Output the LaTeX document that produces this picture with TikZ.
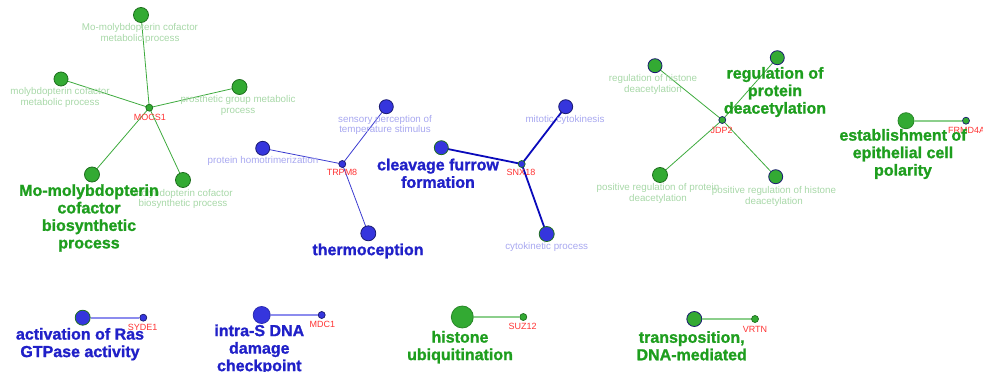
\documentclass[tikz,border=0pt]{standalone}
\usepackage{fontspec}
\setmainfont{Liberation Sans}
\newfontfamily\heavyfont{Liberation Sans Bold}[FakeBold=1.2]
\usetikzlibrary{backgrounds}
\definecolor{gfill}{HTML}{33AA33}
\definecolor{gline}{HTML}{1E6E1E}
\definecolor{bfill}{HTML}{3535DD}
\definecolor{bline}{HTML}{1A1A70}
\definecolor{gedge}{HTML}{3DAA3D}
\definecolor{bedge}{HTML}{3A3AD0}
\definecolor{dbedge}{HTML}{0A0ABB}
\definecolor{lgedge}{HTML}{8CCF8C}
\definecolor{lbedge}{HTML}{8C8CEE}
\definecolor{glabel}{HTML}{A8D8A8}
\definecolor{blabel}{HTML}{A8A8F0}
\definecolor{genec}{HTML}{FF3333}
\definecolor{gbig}{HTML}{1E9E1E}
\definecolor{bbig}{HTML}{2020C8}
\tikzset{
  x=1pt, y=-1pt,
  term/.style={circle, inner sep=0pt, minimum size=#1, line width=0.8pt},
  gterm/.style={term=#1, fill=gfill, draw=gline},
  bterm/.style={term=#1, fill=bfill, draw=bline},
  gbterm/.style={term=#1, fill=gfill, draw=bline},
  bgterm/.style={term=#1, fill=bfill, draw=gline},
  hub/.style={circle, inner sep=0pt, minimum size=7pt, line width=0.7pt},
  termtext/.style={font=\fontsize{9.8}{10.6}\selectfont, align=center, inner sep=0pt},
  gtext/.style={termtext, text=glabel},
  btext/.style={termtext, text=blabel},
  genetext/.style={font=\fontsize{9}{10}\selectfont, text=genec, inner sep=0pt},
  bigtext/.style={font=\fontsize{16}{17.5}\selectfont\heavyfont, align=center, inner sep=0pt},
  gbig/.style={bigtext, text=gbig},
  bbig/.style={bigtext, text=bbig},
  gedge/.style={draw=gedge, line width=0.8pt},
  bedge/.style={draw=bedge, line width=0.8pt},
  dbedge/.style={draw=dbedge, line width=1.8pt},
  lgedge/.style={draw=lgedge, line width=1.6pt},
  lbedge/.style={draw=lbedge, line width=1.6pt},
}
\begin{document}
\begin{tikzpicture}
\useasboundingbox (0,0) rectangle (983,372);

% ---- MOCS1 cluster ----
\node[gtext] (t1a) at (140,33.5) {Mo-molybdopterin cofactor\\metabolic process};
\node[gtext] (t1b) at (60,97.5) {molybdopterin cofactor\\metabolic process};
\node[gtext] (t1c) at (238,105.5) {prosthetic group metabolic\\process};
\node[gtext] (t1d) at (183,199) {molybdopterin cofactor\\biosynthetic process};
\node[genetext] (g1) at (150,117) {MOCS1};
\node[gterm=15pt] (n1a) at (141,15) {};
\node[gterm=14pt] (n1b) at (61,79) {};
\node[gterm=15pt] (n1c) at (239.5,87) {};
\node[gterm=15pt] (n1d) at (92,174.5) {};
\node[gterm=15pt] (n1e) at (183,180) {};
\node[hub, fill=gfill, draw=gline] (h1) at (149.3,107.7) {};
\begin{scope}[on background layer]
\foreach \t in {n1a,n1b,n1c,n1d,n1e} \draw[gedge] (h1.center) -- (\t.center);
\end{scope}
\node[gbig] (big1) at (89,218) {Mo-molybdopterin\\cofactor\\biosynthetic\\process};

% ---- TRPM8 cluster ----
\node[btext] (t2a) at (385,125) {sensory perception of\\temperature stimulus};
\node[btext] (t2b) at (263,161) {protein homotrimerization};
\node[genetext] (g2) at (342,172.7) {TRPM8};
\node[bterm=14pt] (n2a) at (386.3,106.7) {};
\node[bterm=14pt] (n2b) at (262.7,148.3) {};
\node[bterm=15pt] (n2c) at (368.3,233.3) {};
\node[hub, fill=bfill, draw=bline] (h2) at (342.3,164) {};
\begin{scope}[on background layer]
\foreach \t in {n2a,n2b,n2c} \draw[bedge] (h2.center) -- (\t.center);
\end{scope}
\node[bbig] (big2) at (368,251) {thermoception};

% ---- SNX18 cluster ----
\node[btext] (t3a) at (565,120) {mitotic cytokinesis};
\node[btext] (t3b) at (546.7,246.7) {cytokinetic process};
\node[genetext] (g3) at (521,172.7) {SNX18};
\node[bterm=14pt] (n3a) at (565.7,106.7) {};
\node[bgterm=14pt] (n3b) at (441.3,147.7) {};
\node[bgterm=15pt] (n3c) at (546.7,234) {};
\node[hub, fill=bfill, draw=gline] (h3) at (521.7,164) {};
\begin{scope}[on background layer]
\foreach \t in {n3a,n3b,n3c} \draw[dbedge] (h3.center) -- (\t.center);
\end{scope}
\node[bbig] (big3) at (438,173.3) {cleavage furrow\\formation};

% ---- JDP2 cluster ----
\node[gtext] (t4a) at (653,84.3) {regulation of histone\\deacetylation};
\node[gtext] (t4b) at (658,193.2) {positive regulation of protein\\deacetylation};
\node[gtext] (t4c) at (774,196.2) {positive regulation of histone\\deacetylation};
\node[genetext] (g4) at (721.7,130) {JDP2};
\node[gbterm=14pt] (n4a) at (655,65.7) {};
\node[gbterm=14pt] (n4b) at (777.3,57.7) {};
\node[gterm=15pt] (n4c) at (660,175) {};
\node[gbterm=14pt] (n4d) at (775.7,176.7) {};
\node[hub, fill=gfill, draw=bline] (h4) at (722.3,120) {};
\begin{scope}[on background layer]
\foreach \t in {n4a,n4b,n4c,n4d} \draw[gedge] (h4.center) -- (\t.center);
\end{scope}
\node[gbig] (big4) at (775,92) {regulation of\\protein\\deacetylation};

% ---- FRMD4A ----
\node[genetext] (g5) at (966.7,130) {FRMD4A};
\node[gterm=16pt, draw=gfill!80!black] (n5) at (906,120.7) {};
\node[hub, fill=gfill, draw=bline] (h5) at (966,120.7) {};
\draw[lgedge] (n5) -- (h5);
\node[gbig] (big5) at (903,154) {establishment of\\epithelial cell\\polarity};

% ---- SYDE1 ----
\node[genetext] (g6) at (142.7,327.3) {SYDE1};
\node[bgterm=15pt] (n6) at (82.7,317.7) {};
\node[hub, fill=bfill, draw=bline] (h6) at (143.3,317.7) {};
\draw[lbedge] (n6) -- (h6);
\node[bbig] (big6) at (80,344.2) {activation of Ras\\GTPase activity};

% ---- MDC1 ----
\node[genetext] (g7) at (322.3,324) {MDC1};
\node[bterm=17pt, draw=bfill!80!black] (n7) at (261.7,315) {};
\node[hub, fill=bfill, draw=bline] (h7) at (321.7,315) {};
\draw[lbedge] (n7) -- (h7);
\node[bbig] (big7) at (259.3,349.5) {intra-S DNA\\damage\\checkpoint};

% ---- SUZ12 ----
\node[genetext] (g8) at (522.7,326.7) {SUZ12};
\node[gterm=22pt, draw=gfill!80!black] (n8) at (462.3,317) {};
\node[hub, fill=gfill, draw=gline] (h8) at (523.3,317) {};
\draw[lgedge] (n8) -- (h8);
\node[gbig] (big8) at (460,347.2) {histone\\ubiquitination};

% ---- VRTN ----
\node[genetext] (g9) at (755,329.3) {VRTN};
\node[gbterm=15pt] (n9) at (694.3,319) {};
\node[hub, fill=gfill, draw=gline] (h9) at (755,319) {};
\draw[lgedge] (n9) -- (h9);
\node[gbig] (big9) at (691.7,345.8) {transposition,\\DNA-mediated};
\end{tikzpicture}
\end{document}
